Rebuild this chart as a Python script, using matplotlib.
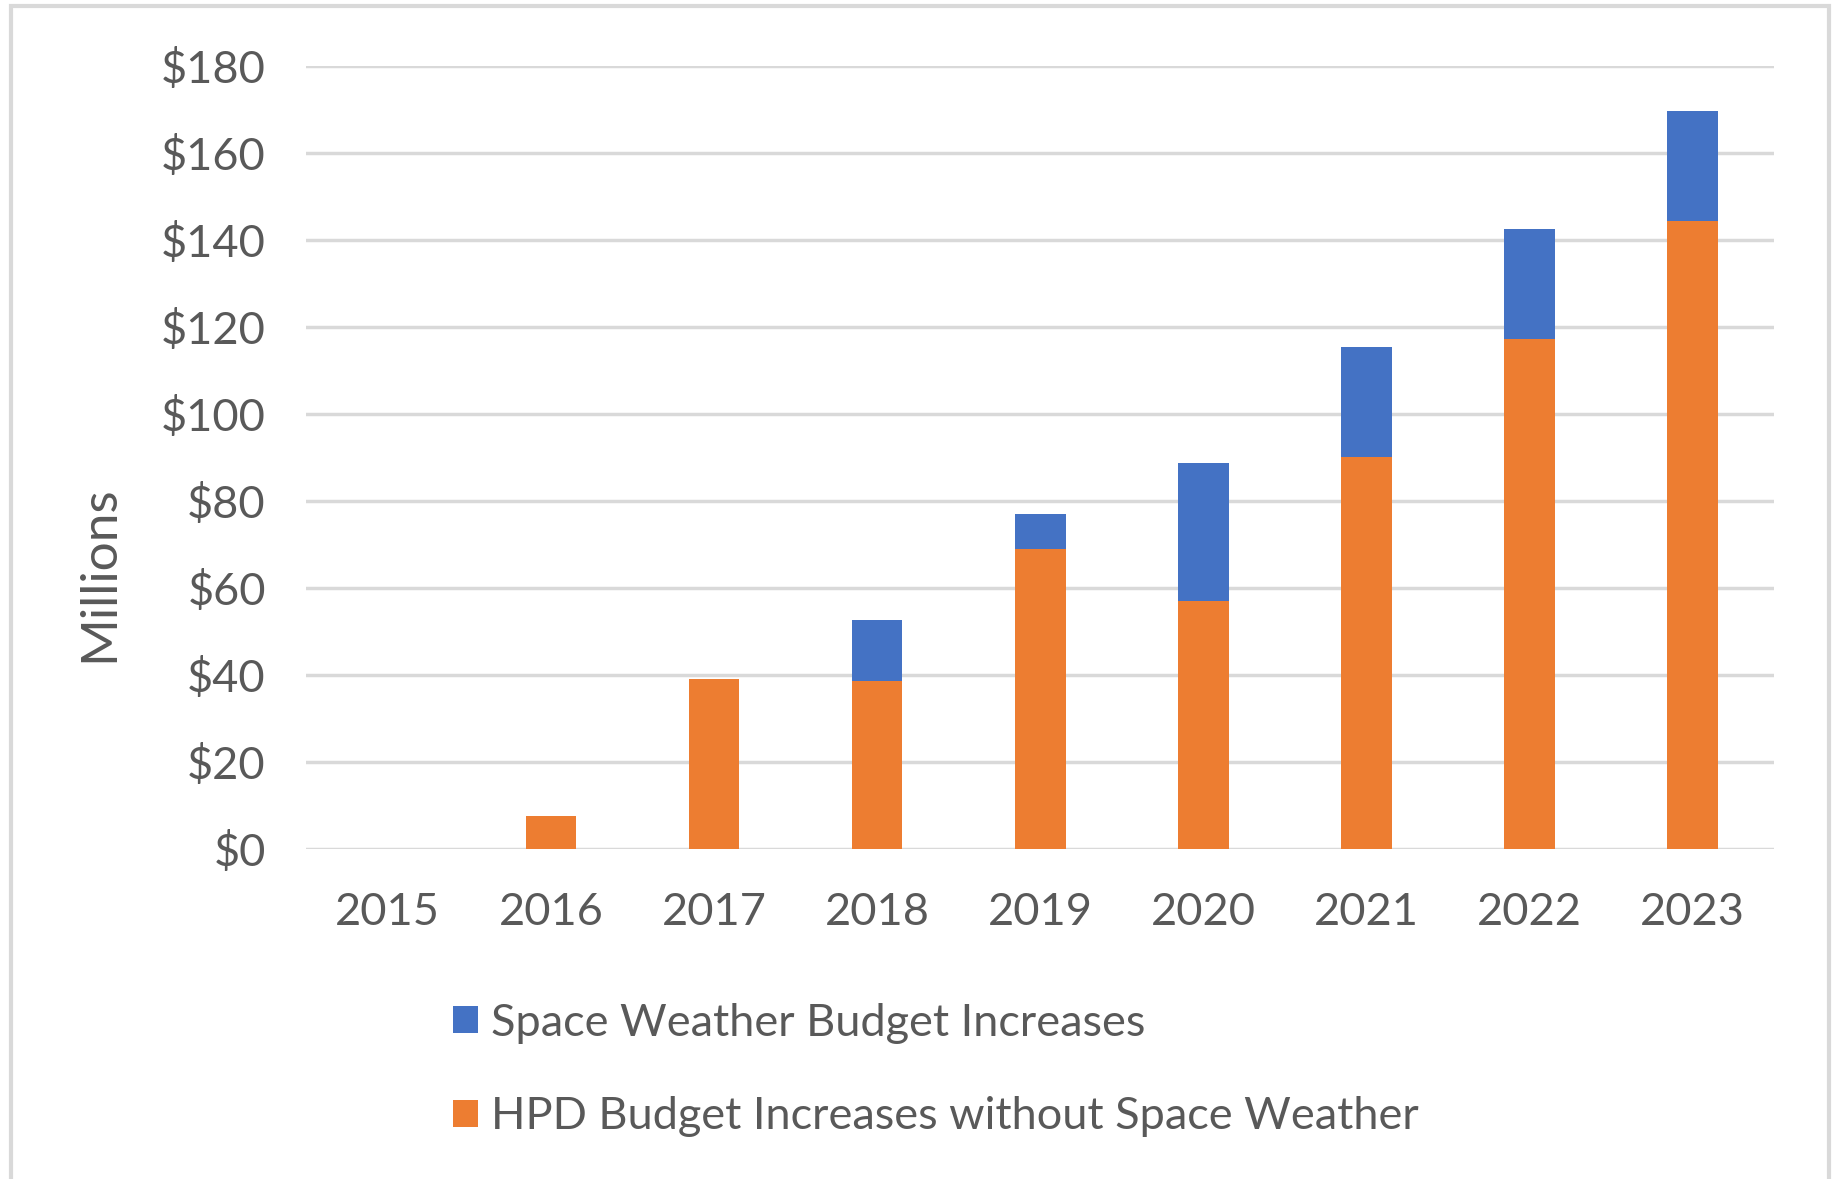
import matplotlib.pyplot as plt
import matplotlib.patches as mpatches
import numpy as np

years = ['2015', '2016', '2017', '2018', '2019', '2020', '2021', '2022', '2023']
hpd = [0, 7.5, 39, 38.5, 69, 57, 90, 117.3, 144.4]
space_weather = [0, 0, 0, 14.2, 8, 31.8, 25.3, 25.2, 25.3]
yticks = [0, 20, 40, 60, 80, 100, 120, 140, 160, 180]

plt.rcParams['font.family'] = ['Lato', 'DejaVu Sans']
txt = '#595959'

fig = plt.figure(figsize=(18.33, 11.79), dpi=100)
ax = fig.add_axes([0.167, 0.280, 0.801, 0.664])

x = np.arange(len(years))
ax.bar(x, hpd, width=0.31, color='#ED7D31', zorder=3,
       label='HPD Budget Increases without Space Weather')
ax.bar(x, space_weather, width=0.31, bottom=hpd, color='#4472C4', zorder=3,
       label='Space Weather Budget Increases')

ax.set_xlim(-0.5, len(years) - 0.5)
ax.set_ylim(0, 180)
ax.set_yticks(yticks)
ax.set_yticklabels(['$' + str(v) for v in yticks])
ax.set_xticks(x)
ax.set_xticklabels(years)
ax.tick_params(length=0, labelsize=32.5, colors=txt)
ax.tick_params(axis='y', pad=29)
ax.tick_params(axis='x', pad=31)
ax.grid(axis='y', color='#d9d9d9', linewidth=2.5, zorder=0)
for s in ax.spines.values():
    s.set_visible(False)

ax.set_ylabel('Millions', fontsize=37, color=txt)
ax.yaxis.set_label_coords(-0.125, 0.352)

handles, labels = ax.get_legend_handles_labels()
leg = fig.legend(handles[::-1], labels[::-1], loc='center left',
                 bbox_to_anchor=(0.247, 0.0925), frameon=False,
                 fontsize=32.5, handlelength=0.55, handleheight=0.55,
                 handletextpad=0.3, labelspacing=1.17, borderpad=0,
                 borderaxespad=0, labelcolor=txt)

# light gray frame around the chart area
fig.patches.append(mpatches.Rectangle((0.006, -0.02), 0.992, 1.015,
                                      transform=fig.transFigure, fill=False,
                                      edgecolor='#d9d9d9', linewidth=3))

fig.savefig('out.png', dpi=100)
